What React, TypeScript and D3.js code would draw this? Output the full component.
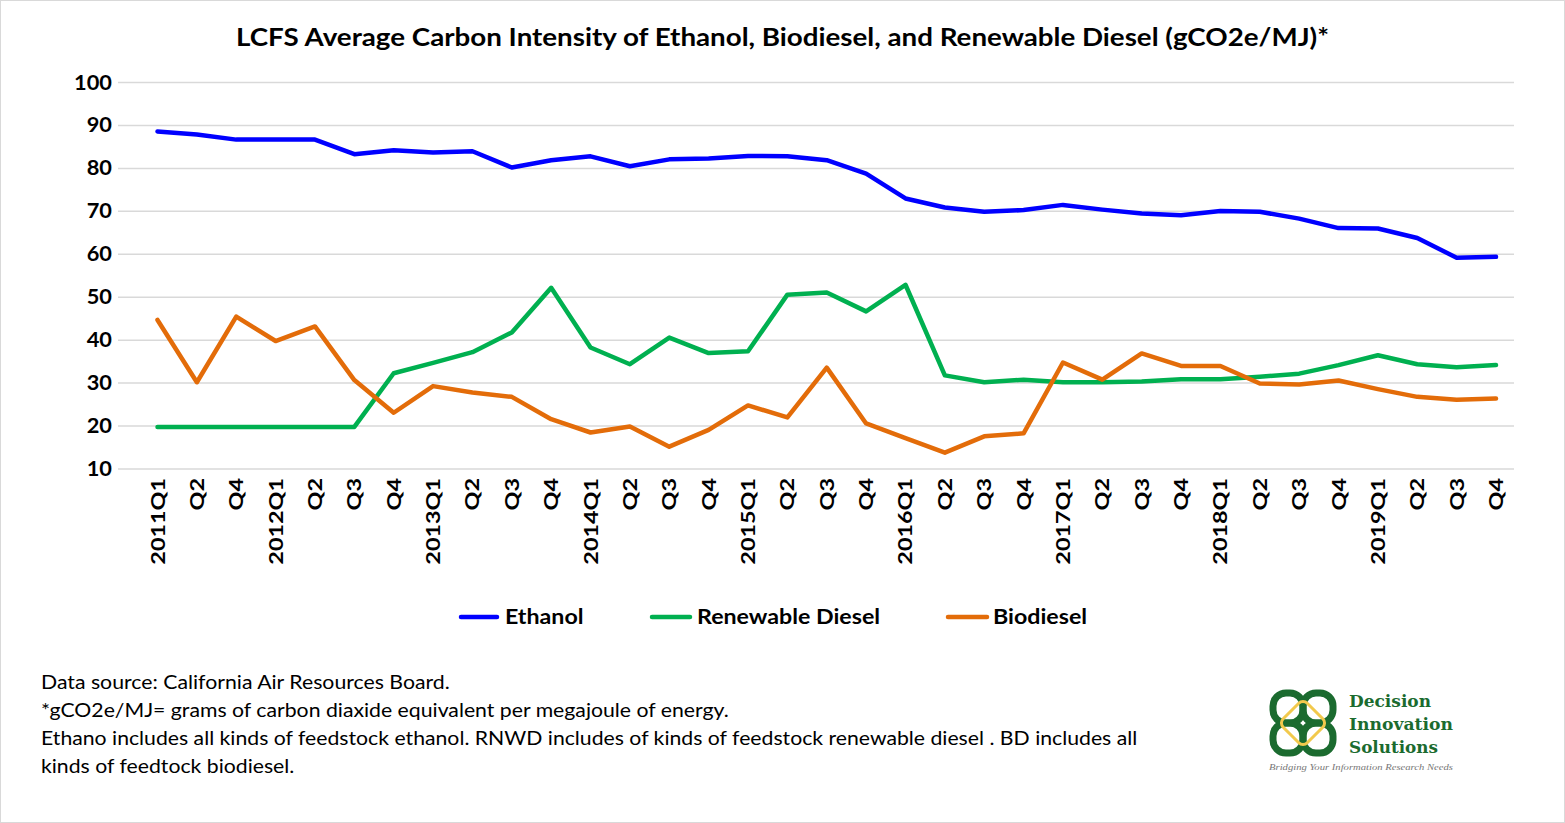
import React from "react";
import * as d3 from "d3";

const categories = ["2011Q1","Q2","Q4","2012Q1","Q2","Q3","Q4","2013Q1","Q2","Q3","Q4","2014Q1","Q2","Q3","Q4","2015Q1","Q2","Q3","Q4","2016Q1","Q2","Q3","Q4","2017Q1","Q2","Q3","Q4","2018Q1","Q2","Q3","Q4","2019Q1","Q2","Q3","Q4"];
const ethanol = [88.6,87.9,86.7,86.7,86.7,83.3,84.2,83.7,84.0,80.2,81.9,82.8,80.5,82.1,82.3,82.9,82.8,81.9,78.8,73.0,70.9,69.9,70.3,71.5,70.4,69.5,69.1,70.1,69.9,68.3,66.1,66.0,63.8,59.2,59.4];
const renewableDiesel = [19.8,19.8,19.8,19.8,19.8,19.8,32.3,34.7,37.2,41.8,52.2,38.3,34.4,40.6,37.0,37.4,50.6,51.1,46.7,52.9,31.8,30.2,30.8,30.2,30.2,30.4,30.9,30.9,31.5,32.2,34.2,36.5,34.4,33.7,34.2];
const biodiesel = [44.7,30.2,45.5,39.8,43.2,30.7,23.1,29.3,27.8,26.8,21.6,18.5,19.9,15.2,19.1,24.8,22.0,33.6,20.6,17.2,13.8,17.6,18.3,34.8,30.8,36.9,34.0,34.0,29.9,29.7,30.6,28.6,26.8,26.1,26.4];
const yTicks = [10,20,30,40,50,60,70,80,90,100];
const seriesNames = ["Ethanol","Renewable Diesel","Biodiesel"];
const seriesColors = ["#0000FF","#00B050","#E36C09"];
const footnotes = [
  "Data source: California Air Resources Board.",
  "*gCO2e/MJ= grams of carbon diaxide equivalent per megajoule of energy.",
  "Ethano includes all kinds of feedstock ethanol. RNWD includes of kinds of feedstock renewable diesel . BD includes all",
  "kinds of feedtock biodiesel.",
];

const W = 1565, H = 823;
const FONT = "Lato, 'Open Sans', sans-serif";
const WIDEN = 1.15;

function approxWidth(s: string, size: number, bold: boolean) {
  // rough Lato advance widths, only used to stretch text to the reference's wider face
  const canvas = (approxWidth as any).c || ((approxWidth as any).c = document.createElement("canvas"));
  const ctx = canvas.getContext("2d");
  ctx.font = `${bold ? "bold " : ""}${size}px Lato`;
  return ctx.measureText(s).width;
}

export default function App() {
  const x = d3.scalePoint<number>().domain(d3.range(categories.length)).range([157.5, 1496]);
  const y = d3.scaleLinear().domain([10, 100]).range([469, 82.5]);
  const line = d3.line<number>().x((_, i) => x(i)!).y((d) => y(d));
  const allSeries = [ethanol, renewableDiesel, biodiesel];
  const legendItems = [
    { x1: 461, x2: 497, tx: 505 },
    { x1: 652, x2: 690, tx: 697 },
    { x1: 948, x2: 987, tx: 993 },
  ];
  const T = (s: string, size: number, bold: boolean, k = WIDEN) => approxWidth(s, size, bold) * k;
  return (
    <svg width={W} height={H} style={{ position: "absolute", left: 0, top: 0, background: "#fff" }}>
      <rect x={0.5} y={0.5} width={W - 1} height={H - 1} fill="#fff" stroke="#D9D9D9" strokeWidth={1} />
      <text x={236} y={46} fontFamily={FONT} fontWeight={700} fontSize={25} fill="#000" textLength={1093} lengthAdjust="spacingAndGlyphs">
        LCFS Average Carbon Intensity of Ethanol, Biodiesel, and Renewable Diesel (gCO2e/MJ)*
      </text>
      {yTicks.map((t) => (
        <g key={t}>
          <line x1={118} x2={1514} y1={y(t)} y2={y(t)} stroke="#D9D9D9" strokeWidth={1.5} />
          <text x={112} y={y(t) + 7} textAnchor="end" fontFamily={FONT} fontWeight={700} fontSize={20} fill="#000" textLength={T(String(t), 20, true, 1.09)} lengthAdjust="spacingAndGlyphs">{t}</text>
        </g>
      ))}
      {categories.map((c, i) => (
        <text key={i} transform={`translate(${x(i)! + 7},478) rotate(-90)`} textAnchor="end" fontFamily={FONT} fontWeight={700} fontSize={19} fill="#000" textLength={T(c, 19, true, 1.23)} lengthAdjust="spacingAndGlyphs">{c}</text>
      ))}
      {allSeries.map((s, k) => (
        <path key={k} d={line(s)!} fill="none" stroke={seriesColors[k]} strokeWidth={4.5} strokeLinejoin="round" strokeLinecap="round" />
      ))}
      {legendItems.map((l, k) => (
        <g key={k}>
          <line x1={l.x1} x2={l.x2} y1={617} y2={617} stroke={seriesColors[k]} strokeWidth={4.5} strokeLinecap="round" />
          <text x={l.tx} y={624} fontFamily={FONT} fontWeight={700} fontSize={20} fill="#000" textLength={T(seriesNames[k], 20, true, 1.16)} lengthAdjust="spacingAndGlyphs">{seriesNames[k]}</text>
        </g>
      ))}
      {footnotes.map((f, i) => (
        <text key={i} x={41} y={689 + i * 28} fontFamily={FONT} fontSize={18.5} fill="#000" textLength={T(f, 18.5, false, 1.145)} lengthAdjust="spacingAndGlyphs">{f}</text>
      ))}
      <g>
        <g transform="translate(1303,723)">
          <rect x={-30} y={-30} width={30} height={30} rx={13} fill="none" stroke="#1B6B2F" strokeWidth={7} />
          <rect x={0} y={-30} width={30} height={30} rx={13} fill="none" stroke="#1B6B2F" strokeWidth={7} />
          <rect x={-30} y={0} width={30} height={30} rx={13} fill="none" stroke="#1B6B2F" strokeWidth={7} />
          <rect x={0} y={0} width={30} height={30} rx={13} fill="none" stroke="#1B6B2F" strokeWidth={7} />
          <rect x={-17} y={-17} width={34} height={34} rx={6} fill="none" stroke="#F2C94C" strokeWidth={3} transform="rotate(45)" />
        </g>
        <text x={1349} y={707} fontFamily="'DejaVu Serif', 'Liberation Serif', serif" fontWeight={700} fontSize={16} fill="#1B6B2F" textLength={82} lengthAdjust="spacingAndGlyphs">Decision</text>
        <text x={1349} y={730} fontFamily="'DejaVu Serif', 'Liberation Serif', serif" fontWeight={700} fontSize={16} fill="#1B6B2F" textLength={104} lengthAdjust="spacingAndGlyphs">Innovation</text>
        <text x={1349} y={753} fontFamily="'DejaVu Serif', 'Liberation Serif', serif" fontWeight={700} fontSize={16} fill="#1B6B2F" textLength={89} lengthAdjust="spacingAndGlyphs">Solutions</text>
        <text x={1269} y={770} fontFamily="'Liberation Serif', serif" fontStyle="italic" fontSize={9} fill="#777" textLength={184} lengthAdjust="spacingAndGlyphs">Bridging Your Information Research Needs</text>
      </g>
    </svg>
  );
}
